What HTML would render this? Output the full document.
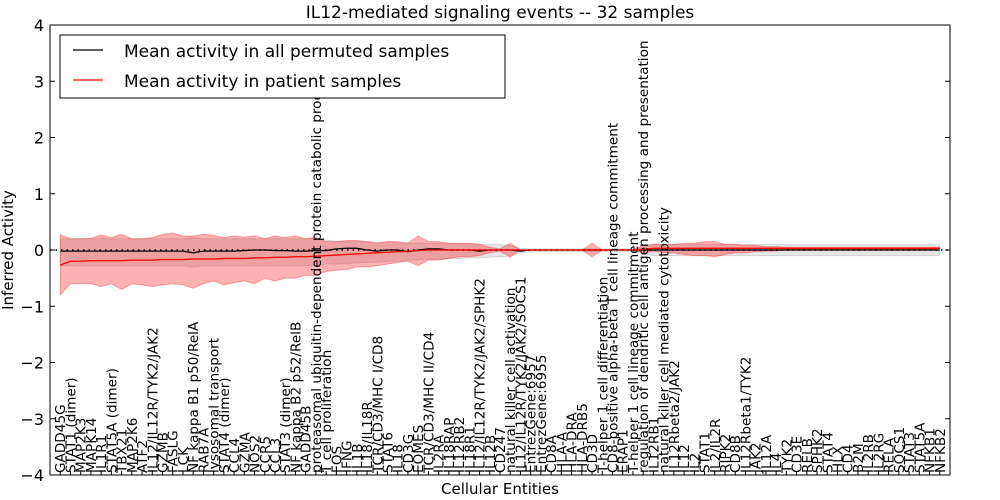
<!DOCTYPE html>
<html><head><meta charset="utf-8"><style>
body{margin:0;background:#fff;}
svg{display:block;font-family:"DejaVu Sans","Liberation Sans",sans-serif;}
</style></head><body>
<svg id="chart" width="1000" height="500"></svg>
<script>
const labels=["GADD45G","STAT1 (dimer)","MAP2K3","MAPK14","IL1R1","STAT5A (dimer)","TBX21","MAP2K6","ATF2","IL12/IL12R/TYK2/JAK2","GZMB","FASLG","LCK","NF kappa B1 p50/RelA","RAB7A","lysosomal transport","STAT4 (dimer)","CCL4","GZMA","NOS2","CCR5","CCL3","STAT3 (dimer)","NF kappa B2 p52/RelB","GADD45B","proteasomal ubiquitin-dependent protein catabolic process","T cell proliferation","FOS","IFNG","IL1B","IL18/IL18R","TCR/CD3/MHC I/CD8","STAT6","IL18","CD3G","EOMES","TCR/CD3/MHC II/CD4","IL2RA","IL18RAP","IL12RB2","IL18R1","IL12/IL12R/TYK2/JAK2/SPHK2","IL12B","CD247","natural killer cell activation","IL12/IL12R/TYK2/JAK2/SOCS1","EntrezGene:6957","EntrezGene:6955","CD8A","HLA-A","HLA-DRA","HLA-DRB5","CD3D","T-helper 1 cell differentiation","CD8-positive alpha-beta T cell lineage commitment","ERAP1","T-helper 1 cell lineage commitment","regulation of dendritic cell antigen processing and presentation","IL12RB1","natural killer cell mediated cytotoxicity","IL12Rbeta2/JAK2","IL12","IL2","STAT1","IL2/IL2R","RIPK2","CD8B","IL12Rbeta1/TYK2","JAK2","IL12A","IL4","TYK2","CD3E","RELB","SPHK2","STAT4","HLX","CD4","B2M","IL2RB","IL2RG","RELA","SOCS1","STAT3","STAT5A","NFKB1","NFKB2"];
const redMean=[-0.27,-0.20,-0.20,-0.19,-0.19,-0.19,-0.19,-0.18,-0.18,-0.18,-0.17,-0.17,-0.17,-0.16,-0.16,-0.16,-0.15,-0.15,-0.15,-0.14,-0.14,-0.13,-0.13,-0.12,-0.12,-0.11,-0.10,-0.09,-0.08,-0.07,-0.06,-0.05,-0.04,-0.03,-0.02,-0.01,0,0,0,0,0,0,0,0,0,0,0,0,0,0,0,0,0,0,0,0,0,0.01,0.03,0.03,0.03,0.03,0.03,0.03,0.03,0.03,0.03,0.03,0.03,0.03,0.03,0.03,0.03,0.03,0.03,0.03,0.03,0.03,0.03,0.03,0.03,0.03,0.03,0.03,0.03,0.03,0.03];
const redUpper=[0.27,0.2,0.2,0.21,0.27,0.22,0.28,0.2,0.2,0.22,0.28,0.3,0.25,0.25,0.28,0.26,0.22,0.25,0.23,0.25,0.2,0.25,0.22,0.25,0.2,0.22,0.15,0.15,0.17,0.17,0.15,0.12,0.15,0.15,0.12,0.25,0.15,0.15,0.12,0.12,0.12,0.1,0.05,0.02,0.12,0,0,0,0,0,0,0,0.12,0,0,0,0,0.08,0.1,0.1,0.1,0.12,0.12,0.15,0.15,0.1,0.1,0.08,0.08,0.06,0.06,0.05,0.05,0.05,0.05,0.05,0.05,0.05,0.05,0.05,0.05,0.05,0.05,0.05,0.05,0.05,0.05];
const redLower=[-0.8,-0.6,-0.6,-0.6,-0.65,-0.6,-0.7,-0.6,-0.62,-0.65,-0.62,-0.6,-0.62,-0.68,-0.6,-0.55,-0.62,-0.58,-0.55,-0.6,-0.5,-0.55,-0.5,-0.5,-0.45,-0.45,-0.38,-0.36,-0.35,-0.3,-0.3,-0.28,-0.25,-0.22,-0.2,-0.28,-0.18,-0.18,-0.15,-0.12,-0.12,-0.1,-0.05,-0.02,-0.12,0,0,0,0,0,0,0,-0.12,0,0,0,0,-0.05,-0.02,-0.05,-0.05,-0.08,-0.1,-0.1,-0.12,-0.08,-0.05,-0.05,-0.03,-0.02,-0.02,0.01,0.01,0.01,0.01,0.01,0.01,0.01,0.01,0.01,0.01,0.01,0.01,0.01,0.01,0.01,0.01];
const blackMean=[-0.02,-0.02,-0.02,-0.02,-0.02,-0.02,-0.02,-0.02,-0.02,-0.02,-0.02,-0.02,-0.02,-0.05,-0.02,-0.02,-0.02,-0.02,-0.01,0,0,-0.01,-0.01,-0.02,-0.02,-0.01,-0.01,0.02,0.03,0.03,0.0,-0.02,0.0,0.0,-0.03,0.0,0.02,0.02,0.0,0.0,0.0,-0.02,0.0,0.0,0.0,-0.02,0,0,0,0,0,0,0,0,0,0,0,0,0,0,0,0,0,0,0,0,0,0,0,0,0,0,0,0,0,0,0,0,0,0,0,0,0,0,0,0,0];
const grayUpper=[0.2,0.2,0.2,0.2,0.2,0.2,0.2,0.2,0.2,0.2,0.2,0.2,0.2,0.22,0.2,0.2,0.2,0.2,0.2,0.2,0.2,0.2,0.2,0.2,0.2,0.22,0.18,0.16,0.15,0.15,0.15,0.14,0.14,0.13,0.12,0.12,0.12,0.12,0.12,0.11,0.11,0.1,0.1,0.1,0.08,0.03,0.02,0.02,0.02,0.02,0.02,0.02,0.02,0.02,0.02,0.02,0.02,0.05,0.1,0.1,0.1,0.1,0.1,0.1,0.1,0.1,0.1,0.1,0.1,0.1,0.1,0.1,0.1,0.1,0.1,0.1,0.1,0.1,0.1,0.1,0.1,0.1,0.1,0.1,0.1,0.1,0.1];
const grayLower=[-0.28,-0.28,-0.28,-0.28,-0.28,-0.28,-0.28,-0.28,-0.28,-0.28,-0.28,-0.28,-0.28,-0.3,-0.28,-0.28,-0.28,-0.28,-0.28,-0.28,-0.28,-0.28,-0.28,-0.28,-0.28,-0.28,-0.25,-0.25,-0.24,-0.23,-0.22,-0.22,-0.2,-0.2,-0.18,-0.18,-0.17,-0.16,-0.15,-0.15,-0.14,-0.14,-0.13,-0.12,-0.12,-0.05,-0.03,-0.03,-0.03,-0.03,-0.03,-0.03,-0.03,-0.03,-0.03,-0.03,-0.03,-0.06,-0.1,-0.1,-0.1,-0.1,-0.1,-0.1,-0.1,-0.1,-0.1,-0.1,-0.1,-0.1,-0.1,-0.1,-0.1,-0.1,-0.1,-0.1,-0.1,-0.1,-0.1,-0.1,-0.1,-0.1,-0.1,-0.1,-0.1,-0.1,-0.1];
const yTicks=[4,3,2,1,0,-1,-2,-3,-4];

const svg=document.getElementById('chart');
const NS='http://www.w3.org/2000/svg';
const L=50,R=950,T=25,B=475;
const n=labels.length;
function X(i){return L+(R-L)*(i+1)/(n+1);}
function Y(v){return T+(4-v)/8*(B-T);}
function mk(tag,attrs,parent){const e=document.createElementNS(NS,tag);for(const k in attrs)e.setAttribute(k,attrs[k]);(parent||svg).appendChild(e);return e;}
function band(up,lo,fill,stroke,name){
  let d='M'+up.map((v,i)=>X(i)+','+Y(v)).join('L');
  for(let i=lo.length-1;i>=0;i--)d+='L'+X(i)+','+Y(lo[i]);
  const p=mk('path',{d:d+'Z',fill:fill,stroke:stroke,'stroke-width':1});
  
  
}
function line(vals,color,w,name){
  const p=mk('polyline',{points:vals.map((v,i)=>X(i)+','+Y(v)).join(' '),fill:'none',stroke:color,'stroke-width':w});
  
  
}
band(grayUpper,grayLower,'rgba(150,150,150,0.25)','rgba(150,150,150,0.3)','permuted-band');
band(redUpper,redLower,'rgba(255,0,0,0.3)','rgba(255,0,0,0.3)','patient-band');
const zl=mk('line',{x1:L,x2:R,y1:Y(0),y2:Y(0),stroke:'#000','stroke-width':1.5,'stroke-dasharray':'1.5,4'});


line(blackMean,'#000',1.3,'permuted-mean-line');
line(redMean,'#f00',1.3,'patient-mean-line');
const fr=mk('rect',{x:L,y:T,width:R-L,height:B-T,fill:'none',stroke:'#000','stroke-width':1});


yTicks.forEach(v=>{
  mk('line',{x1:L,x2:L+5,y1:Y(v),y2:Y(v),stroke:'#000'});
  mk('line',{x1:R-5,x2:R,y1:Y(v),y2:Y(v),stroke:'#000'});
  const t=mk('text',{x:L-6,y:Y(v)+6,'text-anchor':'end','font-size':16});
  t.textContent=(v<0?'\u2212'+(-v):''+v);
  
  
});
labels.forEach((s,i)=>{
  const x=X(i);
  mk('line',{x1:x,x2:x,y1:B,y2:B-4,stroke:'#000'});
  const t=mk('text',{transform:`translate(${x+5},${B-2}) rotate(-90)`,'font-size':13.6});
  t.textContent=s;
  
  
});
const ti=mk('text',{x:500,y:18,'text-anchor':'middle','font-size':17});
ti.textContent='IL12-mediated signaling events -- 32 samples';


const xt=mk('text',{x:500,y:494,'text-anchor':'middle','font-size':15});
xt.textContent='Cellular Entities';


const yt=mk('text',{transform:'translate(13,250) rotate(-90)','text-anchor':'middle','font-size':15});
yt.textContent='Inferred Activity';


const lg=mk('g',{});


mk('rect',{x:60,y:35,width:445,height:63,fill:'#fff',stroke:'#000'},lg);
mk('line',{x1:73,x2:103,y1:50,y2:50,stroke:'#000','stroke-width':1.3},lg);
mk('line',{x1:73,x2:103,y1:80,y2:80,stroke:'#f00','stroke-width':1.3},lg);
const l1=mk('text',{x:124,y:57,'font-size':17},lg);
l1.textContent='Mean activity in all permuted samples';


const l2=mk('text',{x:124,y:87,'font-size':17},lg);
l2.textContent='Mean activity in patient samples';


</script>
</body></html>
